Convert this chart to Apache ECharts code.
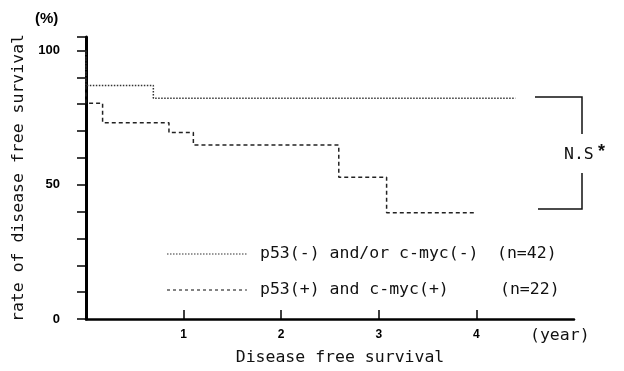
<!DOCTYPE html>
<html><head><meta charset="utf-8">
<script src="https://cdn.jsdelivr.net/npm/echarts@6/dist/echarts.min.js"></script>
<style>html,body{margin:0;padding:0;background:#fff}#c{width:624px;height:371px}</style>
</head><body><div id="c"></div>
<script>
// Kaplan-Meier step points: [year, rate %]
var seriesNames = ['p53(-) and/or c-myc(-)', 'p53(+) and c-myc(+)'];
var seriesN = ['(n=42)', '(n=22)'];
var negTimes = [0, 0, 0.69, 4.40];
var negRates = [100, 86.9, 82.2, 82.2];
var posTimes = [0, 0, 0.17, 0.85, 1.10, 2.59, 3.08, 4.00];
var posRates = [100, 80.3, 73.1, 69.4, 64.8, 52.8, 39.6, 39.6];
var xTicks = [1, 2, 3, 4];
var yTickLabels = [0, 50, 100];

function pairs(t, r) { return t.map(function (v, i) { return [v, r[i]]; }); }

var FONT = '"DejaVu Sans Mono", monospace';
var FS = '16.5px ';
var chart = echarts.init(document.getElementById('c'), null, {renderer: 'canvas'});
var option = {
  animation: false,
  backgroundColor: '#fff',
  grid: {left: 86, right: 50, top: 37, bottom: 52},
  xAxis: {
    type: 'value', min: 0, max: 5, interval: 1,
    axisLine: {show: true, lineStyle: {color: '#000', width: 2.5}},
    axisTick: {show: true, inside: true, length: 9, customValues: xTicks, lineStyle: {color: '#000', width: 1.5}},
    splitLine: {show: false},
    axisLabel: {
      margin: 10, color: '#000', fontFamily: 'Liberation Sans', fontWeight: 'bold', fontSize: 12,
      customValues: xTicks,
      formatter: function (v) { return String(v); }
    }
  },
  yAxis: {
    type: 'value', min: 0, max: 105, interval: 10,
    name: 'rate of disease free survival', nameLocation: 'middle', nameGap: 53,
    nameTextStyle: {fontFamily: FONT, fontSize: 16.5, color: '#111'},
    axisLine: {show: true, lineStyle: {color: '#000', width: 3}},
    axisTick: {show: true, inside: false, length: 9, lineStyle: {color: '#000', width: 1.5}},
    splitLine: {show: false},
    axisLabel: {
      margin: 26, color: '#000', fontFamily: 'Liberation Sans', fontWeight: 'bold', fontSize: 13,
      formatter: function (v) { return yTickLabels.indexOf(v) >= 0 ? String(v) : ''; }
    }
  },
  series: [
    {
      name: seriesNames[0], type: 'line', step: 'end', showSymbol: false,
      data: pairs(negTimes, negRates),
      lineStyle: {color: '#333', width: 1.5, type: 'dotted'}
    },
    {
      name: seriesNames[1], type: 'line', step: 'end', showSymbol: false,
      data: pairs(posTimes, posRates),
      lineStyle: {color: '#222', width: 1.5, type: [4, 3]}
    }
  ],
  graphic: [
    {type: 'text', left: 35, top: 11, style: {text: '(%)', font: 'bold 15px "Liberation Sans"', fill: '#000'}},
    // legend
    {type: 'line', shape: {x1: 167, y1: 254, x2: 247, y2: 254}, style: {stroke: '#333', lineWidth: 1.2, lineDash: [1.5, 1.5]}},
    {type: 'text', x: 260, y: 254, style: {text: seriesNames[0], font: FS + FONT, fill: '#111', textVerticalAlign: 'middle'}},
    {type: 'text', x: 497, y: 254, style: {text: seriesN[0], font: FS + FONT, fill: '#111', textVerticalAlign: 'middle'}},
    {type: 'line', shape: {x1: 167, y1: 290, x2: 247, y2: 290}, style: {stroke: '#333', lineWidth: 1.2, lineDash: [3, 3]}},
    {type: 'text', x: 260, y: 290, style: {text: seriesNames[1], font: FS + FONT, fill: '#111', textVerticalAlign: 'middle'}},
    {type: 'text', x: 500, y: 290, style: {text: seriesN[1], font: FS + FONT, fill: '#111', textVerticalAlign: 'middle'}},
    // axis extra texts
    {type: 'text', x: 530, y: 336, style: {text: '(year)', font: FS + FONT, fill: '#111', textVerticalAlign: 'middle'}},
    {type: 'text', x: 340, y: 358, style: {text: 'Disease free survival', font: FS + FONT, fill: '#111', textAlign: 'center', textVerticalAlign: 'middle'}},
    // significance bracket
    {type: 'polyline', shape: {points: [[535, 97], [582, 97], [582, 134]]}, style: {stroke: '#111', lineWidth: 1.5, fill: null}},
    {type: 'polyline', shape: {points: [[582, 173], [582, 209], [538, 209]]}, style: {stroke: '#111', lineWidth: 1.5, fill: null}},
    {type: 'text', x: 564, y: 155, style: {text: 'N.S', font: FS + FONT, fill: '#111', textVerticalAlign: 'middle'}},
    {type: 'text', x: 598, y: 152, style: {text: '*', font: 'bold 18px "Liberation Sans"', fill: '#111', textVerticalAlign: 'middle'}}
  ]
};
chart.setOption(option);
</script></body></html>
